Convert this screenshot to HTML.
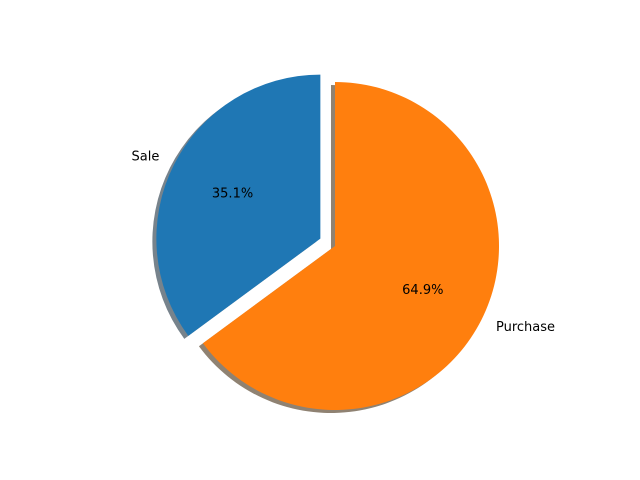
<!DOCTYPE html>
<html><head><meta charset="utf-8"><style>
body{margin:0;background:#fff}
svg{display:block}
text{font-family:"DejaVu Sans","Liberation Sans",sans-serif;font-size:13px;fill:#000}
</style></head><body>
<svg id="chart" width="640" height="480" viewBox="0 0 640 480">
<rect width="640" height="480" fill="#fff"/>
<g id="shadows"></g>
<g id="wedges"></g>
<g id="labels"></g>
</svg>
<script>
const categories = ["Sale", "Purchase"];
const values = [35.1, 64.9];
const explode = [0.1, 0];
const colors = ["#1f77b4", "#ff7f0e"];
const shadowColors = ["#77838c", "#8f8272"];

const cx = 335, cy = 246, R = 164, start = 90;
const total = values.reduce((a, b) => a + b, 0);
const NS = "http://www.w3.org/2000/svg";
const gS = document.getElementById('shadows');
const gW = document.getElementById('wedges');
const gL = document.getElementById('labels');

function pt(x, y, ang, r) { const a = ang * Math.PI / 180; return [x + r * Math.cos(a), y - r * Math.sin(a)]; }
function wedgePath(x, y, a0, a1) {
  const p0 = pt(x, y, a0, R), p1 = pt(x, y, a1, R);
  const large = (a1 - a0) > 180 ? 1 : 0;
  return `M${x},${y} L${p0[0]},${p0[1]} A${R},${R} 0 ${large} 0 ${p1[0]},${p1[1]} Z`;
}
let ang = start;
values.forEach((v, i) => {
  const sweep = v / total * 360;
  const a0 = ang, a1 = ang + sweep, mid = (a0 + a1) / 2;
  const [x, y] = pt(cx, cy, mid, explode[i] * R);
  const sh = document.createElementNS(NS, 'path');
  sh.setAttribute('d', wedgePath(x - 4, y + 3, a0, a1));
  sh.setAttribute('fill', shadowColors[i]);
  
  
  gS.appendChild(sh);
  const w = document.createElementNS(NS, 'path');
  w.setAttribute('d', wedgePath(x, y, a0, a1));
  w.setAttribute('fill', colors[i]);
  
  
  gW.appendChild(w);
  const lp = pt(x, y, mid, 1.1 * R);
  const lt = document.createElementNS(NS, 'text');
  lt.setAttribute('x', lp[0]); lt.setAttribute('y', lp[1]);
  lt.setAttribute('dominant-baseline', 'central');
  lt.setAttribute('text-anchor', Math.cos(mid * Math.PI / 180) < 0 ? 'end' : 'start');
  lt.textContent = categories[i];
  
  
  gL.appendChild(lt);
  const pp = pt(x, y, mid, 0.6 * R);
  const pt2 = document.createElementNS(NS, 'text');
  pt2.setAttribute('x', pp[0]); pt2.setAttribute('y', pp[1]);
  pt2.setAttribute('dominant-baseline', 'central');
  pt2.setAttribute('text-anchor', 'middle');
  pt2.textContent = (v / total * 100).toFixed(1) + '%';
  
  
  gL.appendChild(pt2);
  ang = a1;
});
</script>
</body></html>
